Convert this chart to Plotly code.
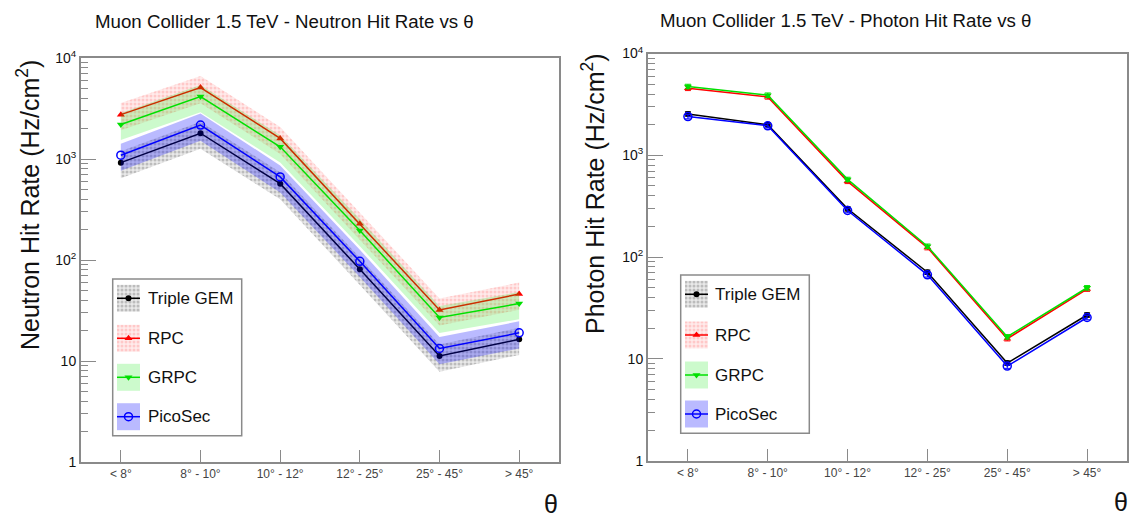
import plotly.graph_objects as go

W, H = 1129, 518

# ---------------- data ----------------
categories = ["< 8°", "8° - 10°", "10° - 12°", "12° - 25°", "25° - 45°", "> 45°"]
y_tick_vals = [1, 10, 100, 1000, 10000]
y_tick_text = ["1", "10", "10<sup>2</sup>", "10<sup>3</sup>", "10<sup>4</sup>"]

series_names = ["Triple GEM", "RPC", "GRPC", "PicoSec"]

neutron_triple_gem = [920, 1800, 570, 81, 11.2, 16.4]
neutron_rpc = [2750, 5100, 1600, 228, 32, 46]
neutron_grpc = [2200, 4150, 1320, 196, 27, 37]
neutron_picosec = [1090, 2170, 665, 97, 13.3, 19]

photon_triple_gem = [2550, 2000, 298, 71, 9.1, 27]
photon_rpc = [4550, 3750, 555, 124, 15.8, 48.5]
photon_grpc = [4750, 3900, 580, 128, 16.5, 50]
photon_picosec = [2400, 1950, 287, 67, 8.5, 25.5]

neutron_rel_err = 0.30      # relative half-width of the neutron uncertainty bands
photon_err_pct = 5          # photon error bars, percent

neutron = [neutron_triple_gem, neutron_rpc, neutron_grpc, neutron_picosec]
photon = [photon_triple_gem, photon_rpc, photon_grpc, photon_picosec]

# ---------------- styles ----------------
FONT = "Liberation Sans, Arial, Helvetica, sans-serif"
FRAME = "#8a8a8a"
line_colors = ["#000000", "#ff0000", "#00e000", "#0000ff"]
marker_styles = [
    dict(symbol="circle", size=6, color="#000000"),
    dict(symbol="triangle-up", size=7, color="#ff0000"),
    dict(symbol="triangle-down", size=7, color="#00e000"),
    dict(symbol="circle-open", size=8, color="#0000ff", line=dict(width=1.5, color="#0000ff")),
]
band_styles = [
    dict(fillcolor="rgba(200,200,200,0.55)",
         fillpattern=dict(shape=".", size=4, solidity=0.45, fgcolor="rgba(120,120,120,0.8)",
                          bgcolor="rgba(215,215,215,0.55)")),
    dict(fillcolor="rgba(255,190,190,0.45)",
         fillpattern=dict(shape=".", size=4, solidity=0.45, fgcolor="rgba(255,120,120,0.6)",
                          bgcolor="rgba(255,215,215,0.5)")),
    dict(fillcolor="rgba(0,230,0,0.2)"),
    dict(fillcolor="rgba(0,0,255,0.27)"),
]

fig = go.Figure()

# ---------------- left: neutron with bands ----------------
for name, vals, lc, ms, bs in zip(series_names, neutron, line_colors, marker_styles, band_styles):
    upper = [v * (1 + neutron_rel_err) for v in vals]
    lower = [v * (1 - neutron_rel_err) for v in vals]
    fig.add_trace(go.Scatter(
        x=categories + categories[::-1], y=upper + lower[::-1],
        fill="toself", mode="lines", line=dict(width=0),
        xaxis="x", yaxis="y", showlegend=False, hoverinfo="skip", **bs))
    fig.add_trace(go.Scatter(
        x=categories, y=vals, mode="lines+markers", name=name,
        line=dict(color=lc, width=1.5), marker=ms,
        xaxis="x", yaxis="y", showlegend=False))

# ---------------- right: photon with error bars ----------------
for name, vals, lc, ms in zip(series_names, photon, line_colors, marker_styles):
    fig.add_trace(go.Scatter(
        x=categories, y=vals, mode="lines+markers", name=name,
        line=dict(color=lc, width=1.5), marker=ms,
        error_y=dict(type="percent", value=photon_err_pct, color=lc, thickness=1, width=3),
        xaxis="x2", yaxis="y2", showlegend=False))

# ---------------- layout ----------------
def px(x):
    return x / W

def py(y):
    return 1 - y / H

L = dict(x0=81, x1=559, y0=58, y1=462)
R = dict(x0=648, x1=1127, y0=53.5, y1=460.7)

minor_vals = [m * 10 ** d for d in range(4) for m in range(2, 10)]

def yaxis_def(P):
    return dict(
        type="log", range=[0, 4], domain=[py(P["y1"]), py(P["y0"])],
        tickmode="array", tickvals=y_tick_vals, ticktext=y_tick_text,
        ticks="inside", ticklen=15, tickwidth=1, tickcolor=FRAME,
        minor=dict(tickvals=minor_vals, ticks="inside", ticklen=7, tickwidth=1,
                   tickcolor=FRAME, showgrid=False),
        showgrid=False, zeroline=False, showline=True, mirror=True,
        linecolor=FRAME, linewidth=2, automargin=False,
        tickfont=dict(family=FONT, size=14, color="#111"),
    )

def xaxis_def(P):
    return dict(
        type="category", range=[-0.5, 5.5], domain=[px(P["x0"]), px(P["x1"])],
        ticks="inside", ticklen=12, tickwidth=1, tickcolor=FRAME,
        showgrid=False, zeroline=False, showline=True, mirror=True,
        linecolor=FRAME, linewidth=2, automargin=False,
        tickfont=dict(family=FONT, size=12, color="#444"),
    )

fig.update_layout(
    width=W, height=H,
    margin=dict(l=0, r=0, t=0, b=0, autoexpand=False),
    paper_bgcolor="white", plot_bgcolor="rgba(0,0,0,0)",
    showlegend=False,
    xaxis=dict(anchor="y", **xaxis_def(L)),
    yaxis=dict(anchor="x", **yaxis_def(L)),
    xaxis2=dict(anchor="y2", **xaxis_def(R)),
    yaxis2=dict(anchor="x2", **yaxis_def(R)),
    # overlay pixel axes for the hand-drawn legends
    xaxis3=dict(domain=[0, 1], range=[0, W], visible=False, anchor="y3",
                fixedrange=True, automargin=False),
    yaxis3=dict(domain=[0, 1], range=[H, 0], visible=False, anchor="x3",
                fixedrange=True, automargin=False),
)

annotations = []
shapes = []

# titles
for text, cx, cy in [("Muon Collider 1.5 TeV - Neutron Hit Rate vs θ", 284, 21),
                     ("Muon Collider 1.5 TeV - Photon Hit Rate vs θ", 846, 20)]:
    annotations.append(dict(text=text, x=px(cx), y=py(cy), xref="paper", yref="paper",
                            xanchor="center", yanchor="middle", showarrow=False,
                            font=dict(family=FONT, size=18.7, color="#111")))
# y titles
for text, cx, cy in [("Neutron Hit Rate (Hz/cm<sup>2</sup>)", 28, 205),
                     ("Photon Hit Rate (Hz/cm<sup>2</sup>)", 593, 194)]:
    annotations.append(dict(text=text, x=px(cx), y=py(cy), xref="paper", yref="paper",
                            xanchor="center", yanchor="middle", showarrow=False, textangle=-90,
                            font=dict(family=FONT, size=25, color="#111")))
# x titles
for cx, cy in [(551, 504), (1121, 502)]:
    annotations.append(dict(text="θ", x=px(cx), y=py(cy), xref="paper", yref="paper",
                            xanchor="center", yanchor="middle", showarrow=False,
                            font=dict(family=FONT, size=25, color="#111")))

# legends
legend_boxes = [
    dict(box=(112.7, 279, 241.7, 435.7), sw=(117, 140), tx=145.5, ys=[298.3, 338.3, 377.3, 416.7]),
    dict(box=(680.7, 275, 809.3, 433.3), sw=(685, 708), tx=712.5, ys=[294.3, 335, 375, 414]),
]
for lg in legend_boxes:
    bx0, by0, bx1, by1 = lg["box"]
    shapes.append(dict(type="rect", xref="paper", yref="paper",
                       x0=px(bx0), x1=px(bx1), y0=py(by1), y1=py(by0),
                       line=dict(color=FRAME, width=1.5), fillcolor="rgba(255,255,255,0)"))
    sx0, sx1 = lg["sw"]
    for name, ey, lc, ms, bs in zip(series_names, lg["ys"], line_colors, marker_styles, band_styles):
        fig.add_trace(go.Scatter(
            x=[sx0, sx1, sx1, sx0, sx0], y=[ey - 13.5, ey - 13.5, ey + 13.5, ey + 13.5, ey - 13.5],
            fill="toself", mode="lines", line=dict(width=0), xaxis="x3", yaxis="y3",
            showlegend=False, hoverinfo="skip", **bs))
        fig.add_trace(go.Scatter(
            x=[sx0, (sx0 + sx1) / 2, sx1], y=[ey, ey, ey], mode="lines",
            line=dict(color=lc, width=1.5), xaxis="x3", yaxis="y3",
            showlegend=False, hoverinfo="skip"))
        fig.add_trace(go.Scatter(
            x=[(sx0 + sx1) / 2], y=[ey], mode="markers", marker=ms,
            xaxis="x3", yaxis="y3", showlegend=False, hoverinfo="skip"))
        annotations.append(dict(text=name, x=px(lg["tx"]), y=py(ey), xref="paper", yref="paper",
                                xanchor="left", yanchor="middle", showarrow=False,
                                font=dict(family=FONT, size=17, color="#111")))

fig.update_layout(annotations=annotations, shapes=shapes)

fig.write_html(
    "out.html",
    config={"displayModeBar": False},
    post_script="document.body.style.margin='0px';document.body.style.overflow='hidden';",
)
